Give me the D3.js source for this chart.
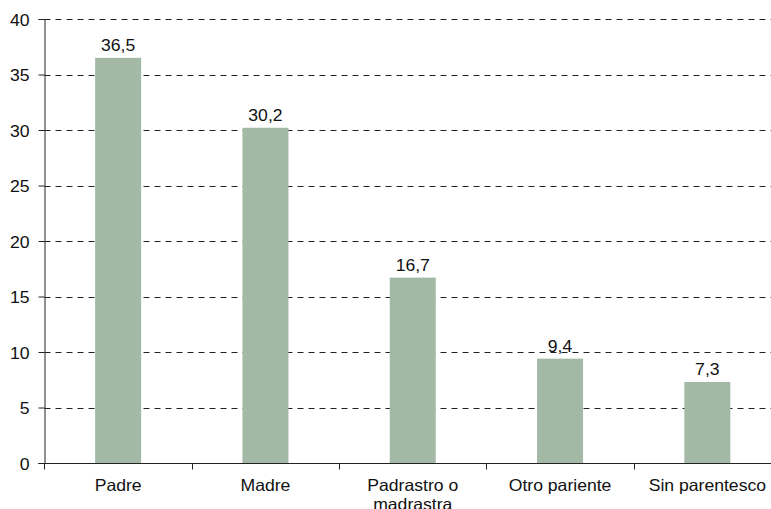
<!DOCTYPE html>
<html>
<head>
<meta charset="utf-8">
<script src="https://cdn.jsdelivr.net/npm/d3@7"></script>
<style>
  html, body { margin: 0; padding: 0; background: #fff; }
  svg { display: block; font-family: "Liberation Sans", Arial, sans-serif; }
</style>
</head>
<body>
<svg id="chart" width="771" height="509"></svg>
<script>
// Relationship categories and their percentages
const categories = ["Padre", "Madre", "Padrastro o madrastra", "Otro pariente", "Sin parentesco"];
const categoryLines = [["Padre"], ["Madre"], ["Padrastro o", "madrastra"], ["Otro pariente"], ["Sin parentesco"]];
const values = [36.5, 30.2, 16.7, 9.4, 7.3];
const valueLabels = ["36,5", "30,2", "16,7", "9,4", "7,3"];
const yTicks = [0, 5, 10, 15, 20, 25, 30, 35, 40];

const svg = d3.select("#chart");
const plotLeft = 44.5, plotRight = 781, plotTop = 19, plotBottom = 463;
const fontSize = 16.3, stretch = 1.08;

const x = d3.scaleBand().domain(categories).range([plotLeft, plotRight]).paddingInner(0).paddingOuter(0);
const y = d3.scaleLinear().domain([0, 40]).range([plotBottom, plotTop]);

// Helper: place a slightly widened label at (px, py)
function label(g, px, py, anchor, txt) {
  return g.append("text")
    .attr("transform", `translate(${px},${py}) scale(${stretch},1)`)
    .attr("text-anchor", anchor)
    .attr("font-size", fontSize)
    .attr("fill", "#111")
    .text(txt);
}

// Dashed horizontal gridlines
svg.append("g")
  .selectAll("line")
  .data(yTicks.filter(d => d > 0))
  .join("line")
  .attr("x1", plotLeft).attr("x2", 771)
  .attr("y1", d => Math.round(y(d)) + 0.5).attr("y2", d => Math.round(y(d)) + 0.5)
  .attr("stroke", "#222").attr("stroke-width", 1)
  .attr("stroke-dasharray", "6,5");

// Bars
const barW = 46;
svg.append("g")
  .selectAll("rect")
  .data(values)
  .join("rect")
  .attr("x", (d, i) => x(categories[i]) + x.bandwidth() / 2 - barW / 2)
  .attr("width", barW)
  .attr("y", d => y(d))
  .attr("height", d => y(0) - y(d))
  .attr("fill", "#a3b8a5");

// Value labels above bars
const valG = svg.append("g");
values.forEach((v, i) => {
  label(valG, x(categories[i]) + x.bandwidth() / 2, y(v) - 7, "middle", valueLabels[i]);
});

// Y axis line and ticks
const yAxis = svg.append("g")
  .attr("transform", `translate(${plotLeft},0)`)
  .call(d3.axisLeft(y).tickValues(yTicks).tickSize(6).tickFormat(""));
yAxis.select(".domain").attr("stroke", "#222");
yAxis.selectAll(".tick line").attr("stroke", "#222");

// Y tick labels
const yLab = svg.append("g");
yTicks.forEach(t => {
  label(yLab, plotLeft - 15, y(t) + 6.5, "end", d3.format("d")(t));
});

// X axis baseline and category separators
const xAxis = svg.append("g").attr("transform", `translate(0,${plotBottom + 0.5})`);
xAxis.append("line").attr("x1", plotLeft - 6).attr("x2", 771).attr("y1", 0).attr("y2", 0)
  .attr("stroke", "#222").attr("stroke-width", 1);
xAxis.selectAll("line.sep")
  .data(categories.slice(1))
  .join("line")
  .attr("class", "sep")
  .attr("x1", d => Math.round(x(d)) + 0.5).attr("x2", d => Math.round(x(d)) + 0.5)
  .attr("y1", 0).attr("y2", 6)
  .attr("stroke", "#222");
xAxis.append("line").attr("x1", plotLeft).attr("x2", plotLeft).attr("y1", 0).attr("y2", 6).attr("stroke", "#222");

// Category labels (multi-line where needed)
const xLab = svg.append("g");
categories.forEach((c, i) => {
  categoryLines[i].forEach((line, j) => {
    label(xLab, x(c) + x.bandwidth() / 2, 491 + j * 18.5, "middle", line);
  });
});
</script>
</body>
</html>
